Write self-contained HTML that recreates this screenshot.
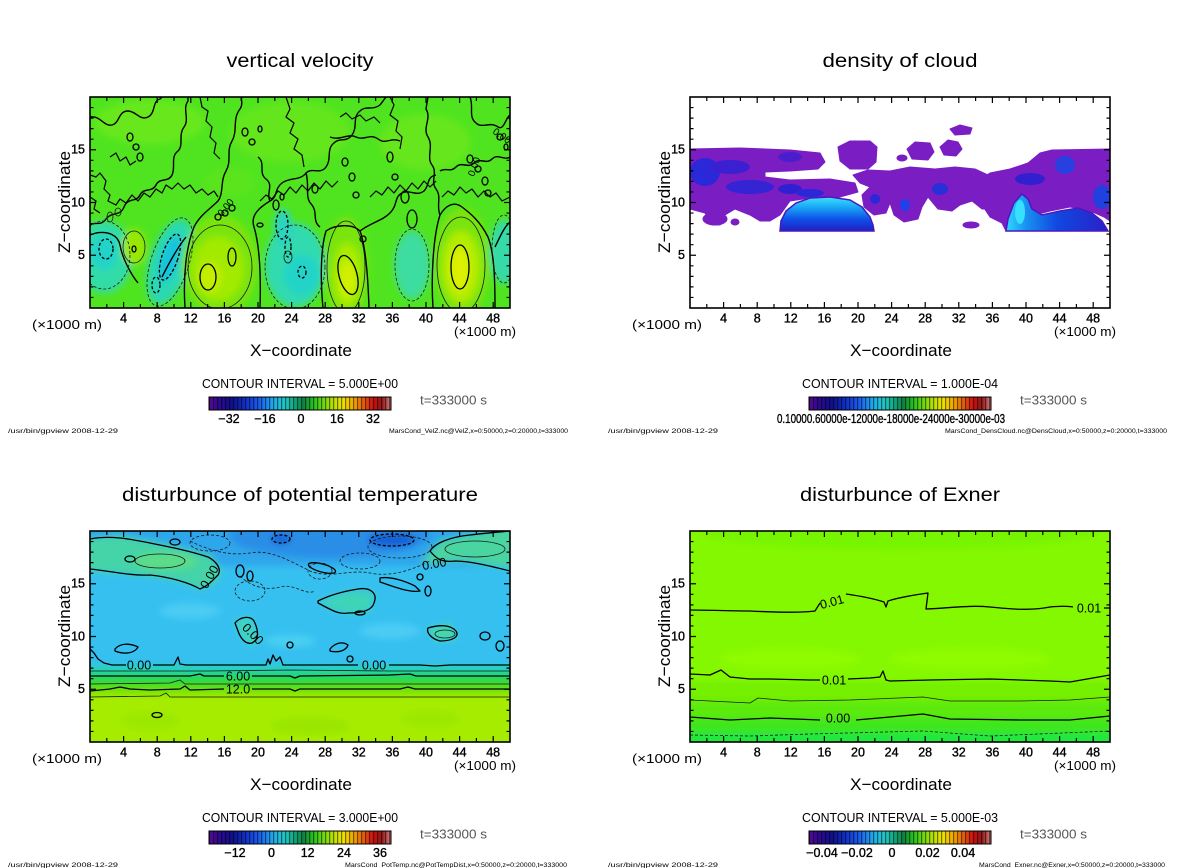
<!DOCTYPE html>
<html><head><meta charset="utf-8">
<style>
html,body{margin:0;padding:0;background:#fff;width:1200px;height:868px;overflow:hidden}
svg{display:block}
.t{font-size:19px}
.ax{font-size:17px}
.tk{font-size:12.5px;stroke:#000;stroke-width:.35}
.ci{font-size:13px}
.ts{font-size:12.5px;fill:#555}
.ft{font-size:6.5px}
.cl{font-size:12.5px}
</style></head><body>
<svg width="1200" height="868" viewBox="0 0 1200 868" xmlns="http://www.w3.org/2000/svg" font-family="'Liberation Sans', Arial, sans-serif">
<defs>
<clipPath id="pc"><rect x="0" y="0" width="420" height="211"/></clipPath>
<filter id="bl" x="-20%" y="-20%" width="140%" height="140%"><feGaussianBlur stdDeviation="3.5"/></filter>
<linearGradient id="cbg" x1="0" x2="1" y1="0" y2="0">
<stop offset="0" stop-color="#5a0896"/><stop offset=".06" stop-color="#2a0a90"/><stop offset=".13" stop-color="#10108c"/>
<stop offset=".2" stop-color="#1030c8"/><stop offset=".28" stop-color="#1a60f0"/><stop offset=".36" stop-color="#20b0e8"/>
<stop offset=".42" stop-color="#20c8c0"/><stop offset=".48" stop-color="#10a070"/><stop offset=".52" stop-color="#108040"/>
<stop offset=".57" stop-color="#20c020"/><stop offset=".63" stop-color="#70d810"/><stop offset=".69" stop-color="#c0e000"/>
<stop offset=".74" stop-color="#f0e000"/><stop offset=".8" stop-color="#f0a000"/><stop offset=".86" stop-color="#e05010"/>
<stop offset=".9" stop-color="#d01010"/><stop offset=".95" stop-color="#901818"/><stop offset="1" stop-color="#d88080"/>
</linearGradient>
<pattern id="stp" x="209" y="0" width="4" height="20" patternUnits="userSpaceOnUse"><rect width="1.2" height="20" fill="#000" opacity=".5"/></pattern>
<linearGradient id="lens1" x1="0" y1="0" x2="0" y2="1">
<stop offset="0" stop-color="#40e0ff"/><stop offset=".3" stop-color="#18a8f4"/><stop offset=".65" stop-color="#1050e8"/><stop offset="1" stop-color="#2020c0"/>
</linearGradient>
<linearGradient id="lens2" x1="0" y1="0" x2="1" y2="0">
<stop offset="0" stop-color="#30d8ff"/><stop offset=".2" stop-color="#1890f0"/><stop offset=".5" stop-color="#1048e0"/><stop offset="1" stop-color="#2a20c8"/>
</linearGradient>
<g id="axes">
<rect x="0" y="0" width="420" height="211" fill="none" stroke="#000" stroke-width="1.6"/>
<path fill="none" stroke="#000" stroke-width="1.2" d="M16.8,211v-4M50.4,211v-4M84,211v-4M117.6,211v-4M151.2,211v-4M184.8,211v-4M218.4,211v-4M252,211v-4M285.6,211v-4M319.2,211v-4M352.8,211v-4M386.4,211v-4M33.6,211v-6M67.2,211v-6M100.8,211v-6M134.4,211v-6M168,211v-6M201.6,211v-6M235.2,211v-6M268.8,211v-6M302.4,211v-6M336,211v-6M369.6,211v-6M403.2,211v-6M16.8,0v4M50.4,0v4M84,0v4M117.6,0v4M151.2,0v4M184.8,0v4M218.4,0v4M252,0v4M285.6,0v4M319.2,0v4M352.8,0v4M386.4,0v4M33.6,0v6M67.2,0v6M100.8,0v6M134.4,0v6M168,0v6M201.6,0v6M235.2,0v6M268.8,0v6M302.4,0v6M336,0v6M369.6,0v6M403.2,0v6M0,200.45h3.5M0,189.9h3.5M0,179.35h3.5M0,168.8h3.5M0,147.7h3.5M0,137.15h3.5M0,126.6h3.5M0,116.05h3.5M0,94.95h3.5M0,84.4h3.5M0,73.85h3.5M0,63.3h3.5M0,42.2h3.5M0,31.65h3.5M0,21.1h3.5M0,10.55h3.5M0,158.25h6M0,105.5h6M0,52.75h6M420,200.45h-3.5M420,189.9h-3.5M420,179.35h-3.5M420,168.8h-3.5M420,147.7h-3.5M420,137.15h-3.5M420,126.6h-3.5M420,116.05h-3.5M420,94.95h-3.5M420,84.4h-3.5M420,73.85h-3.5M420,63.3h-3.5M420,42.2h-3.5M420,31.65h-3.5M420,21.1h-3.5M420,10.55h-3.5M420,158.25h-6M420,105.5h-6M420,52.75h-6"/>
</g>
<g id="cbar">
<rect x="209" y="397" width="182" height="13" fill="url(#cbg)"/>
<rect x="209" y="397" width="182" height="13" fill="url(#stp)"/>
<rect x="209" y="397" width="182" height="13" fill="none" stroke="#000" stroke-width="1"/>
</g>
<g id="common">
<text class="ax" transform="translate(70,202) rotate(-90)" text-anchor="middle" textLength="102" lengthAdjust="spacingAndGlyphs">Z−coordinate</text>
<text class="tk" x="85" y="153.5" text-anchor="end">15</text>
<text class="tk" x="85" y="206.5" text-anchor="end">10</text>
<text class="tk" x="85" y="259" text-anchor="end">5</text>
<g class="tk" text-anchor="middle">
<text x="123.6" y="322.5">4</text><text x="157.2" y="322.5">8</text><text x="190.8" y="322.5">12</text><text x="224.4" y="322.5">16</text>
<text x="258" y="322.5">20</text><text x="291.6" y="322.5">24</text><text x="325.2" y="322.5">28</text><text x="358.8" y="322.5">32</text>
<text x="392.4" y="322.5">36</text><text x="426" y="322.5">40</text><text x="459.6" y="322.5">44</text><text x="493.2" y="322.5">48</text>
</g>
<text class="cl" x="32" y="329" textLength="70" lengthAdjust="spacingAndGlyphs">(×1000 m)</text>
<text class="cl" x="454" y="336" textLength="62" lengthAdjust="spacingAndGlyphs">(×1000 m)</text>
<text class="ax" x="301" y="356" text-anchor="middle" textLength="102" lengthAdjust="spacingAndGlyphs">X−coordinate</text>
<use href="#cbar"/>
<text class="ts" x="420" y="404.5" textLength="67" lengthAdjust="spacingAndGlyphs">t=333000 s</text>
<text class="ft" x="8" y="433" textLength="110" lengthAdjust="spacingAndGlyphs">/usr/bin/gpview  2008-12-29</text>
</g>
</defs>

<!-- ================= PANEL 1 ================= -->
<g>
<text class="t" x="300" y="67" text-anchor="middle" textLength="147" lengthAdjust="spacingAndGlyphs">vertical velocity</text>
<g transform="translate(90,97)">
<g clip-path="url(#pc)">
<rect x="-5" y="-5" width="430" height="221" fill="#50e420"/>
<g filter="url(#bl)">
<ellipse cx="60" cy="25" rx="55" ry="22" fill="#68e81a"/>
<ellipse cx="200" cy="35" rx="60" ry="30" fill="#64e61a"/>
<ellipse cx="335" cy="45" rx="45" ry="28" fill="#66e61a"/>
<ellipse cx="140" cy="85" rx="25" ry="15" fill="#5ae41c"/>
<ellipse cx="14" cy="160" rx="28" ry="36" fill="#30dca8"/>
<ellipse cx="14" cy="155" rx="14" ry="18" fill="#20d4c8"/>
<ellipse cx="80" cy="165" rx="20" ry="44" fill="#2cd8b4" transform="rotate(18 80 165)"/>
<ellipse cx="80" cy="162" rx="9" ry="24" fill="#14c4dc" transform="rotate(18 80 162)"/>
<ellipse cx="205" cy="168" rx="30" ry="42" fill="#30dab0"/>
<ellipse cx="212" cy="178" rx="18" ry="20" fill="#22d4c8"/>
<ellipse cx="193" cy="130" rx="9" ry="18" fill="#2ad4c0"/>
<ellipse cx="322" cy="168" rx="18" ry="34" fill="#3cdca0"/>
<ellipse cx="414" cy="155" rx="14" ry="32" fill="#34daa8"/>
<ellipse cx="130" cy="168" rx="38" ry="50" fill="#7ae408"/>
<ellipse cx="128" cy="172" rx="26" ry="32" fill="#a2ea00"/>
<ellipse cx="120" cy="180" rx="11" ry="15" fill="#c4ee00"/>
<ellipse cx="256" cy="172" rx="22" ry="52" fill="#7ae408"/>
<ellipse cx="257" cy="178" rx="14" ry="32" fill="#aaec00"/>
<ellipse cx="258" cy="182" rx="8" ry="18" fill="#d2f000"/>
<ellipse cx="372" cy="165" rx="28" ry="54" fill="#7ae408"/>
<ellipse cx="371" cy="170" rx="19" ry="36" fill="#b2ec00"/>
<ellipse cx="370" cy="172" rx="10" ry="22" fill="#dcf000"/>
<ellipse cx="44" cy="150" rx="12" ry="18" fill="#9ae800"/>
</g>
<g fill="none" stroke="#000" stroke-width="1.4" stroke-linejoin="round">
<path d="M95,211 C93,180 96,150 104,130 C110,118 120,112 128,104 C134,96 130,84 136,74 C142,64 136,54 142,44 C148,34 142,22 150,12 C154,6 150,2 152,0"/>
<path d="M170,211 C171,180 170,150 164,130 C160,118 170,110 180,104 C188,100 184,92 192,86 C200,80 210,84 216,76 C222,70 230,78 236,70 C242,62 236,52 244,46 C250,40 256,46 262,38 C268,30 262,20 270,14 C276,8 282,14 290,8 L296,0"/>
<path d="M233,211 C230,180 231,150 236,134 C244,128 262,126 270,134 C276,150 278,180 279,211"/>
<path d="M270,134 C280,126 292,124 300,116 C308,108 304,100 312,96 C320,92 326,100 334,94 C340,88 336,80 346,78"/>
<path d="M343,211 C341,180 343,140 350,118 C356,108 364,104 372,110 C380,116 390,124 398,140 C404,155 405,180 405,211"/>
<path d="M350,118 C346,108 352,100 346,92 C340,84 348,76 342,68 C336,60 344,50 338,40 C332,30 342,22 336,12 L338,0"/>
<path d="M0,128 C6,124 10,130 16,122 C22,114 30,120 34,110 C38,100 46,106 50,98 C54,90 62,96 66,88 C70,80 78,86 82,78 C86,70 80,60 88,54 C94,48 88,38 94,30 C100,22 92,12 98,4 L98,0"/>
<path d="M0,20 C10,18 14,30 22,28 C30,26 28,14 38,14 C46,14 50,24 58,20 C66,16 62,4 70,2 L72,0"/>
<path d="M48,186 C40,176 32,160 30,148 C28,138 18,134 6,136 L0,138"/>
<path d="M96,140 C88,150 78,168 72,180"/>
<path d="M420,60 C414,64 408,56 402,62 C396,68 390,60 384,66 C378,72 372,64 366,70 C360,76 356,70 350,74"/>
<path d="M405,150 C410,140 414,130 420,125"/>
<path d="M240,40 C250,44 258,36 266,40 C274,44 280,36 288,42 C296,48 300,40 310,44"/>
<path d="M380,0 C384,10 378,20 386,26 C392,32 400,24 408,30 C414,34 416,20 420,18"/>
<path d="M180,104 C176,96 184,88 176,82 C168,76 176,66 168,60"/>
<path d="M216,76 C220,90 214,100 222,108 C228,116 222,124 230,130"/>
</g>
<g fill="none" stroke="#000" stroke-width="1.2" stroke-linejoin="round">
<path d="M0,78 L6,80 L10,76 L16,84 L14,92 L20,98 L18,104 L26,108 L30,102 L36,106 L42,98 L48,104 L54,96 L60,100 L66,92 L72,96 L76,88 L82,92 L88,86 L94,92 L100,88 L106,96 L112,92 L118,98 L124,94 L128,100"/>
<path d="M170,104 L176,98 L182,102 L188,94 L194,98 L200,90 L206,96 L212,88 L218,94 L224,86 L230,92 L236,84 L242,90 L248,84"/>
<path d="M280,100 L286,94 L292,98 L298,90 L304,96 L310,88 L316,94 L322,86 L328,92 L334,84 L340,90 L346,84"/>
<path d="M352,100 L358,94 L364,98 L370,90 L376,96 L382,92 L388,100 L394,94 L400,100 L406,96 L412,104 L420,100"/>
<path d="M110,0 L112,10 L118,14 L116,24 L122,30 L120,40 L126,46 L124,56 L130,62"/>
<path d="M196,0 L200,12 L196,20 L204,26 L200,36 L208,42 L204,52 L212,58 L214,70"/>
<path d="M300,0 L304,8 L300,18 L308,24 L306,34 L312,40 L310,52"/>
<path d="M250,20 L256,16 L262,22 L270,18 L276,24 L284,20 L290,26"/>
<path d="M20,60 L26,56 L30,64 L36,60 L40,68 L46,64"/>
<path d="M0,100 L6,104 L4,112 L10,116"/>
</g>
<g fill="none" stroke="#000" stroke-width="1.3">
<ellipse cx="40" cy="40" rx="3" ry="4"/><ellipse cx="46" cy="50" rx="3" ry="3"/><ellipse cx="50" cy="60" rx="3" ry="4"/>
<ellipse cx="128" cy="120" rx="3" ry="3"/><ellipse cx="135" cy="116" rx="3" ry="3"/><ellipse cx="142" cy="111" rx="3" ry="3"/>
<ellipse cx="155" cy="35" rx="3" ry="4"/><ellipse cx="162" cy="45" rx="3" ry="3"/><ellipse cx="170" cy="32" rx="2" ry="3"/>
<ellipse cx="255" cy="65" rx="3" ry="4"/><ellipse cx="262" cy="80" rx="3" ry="4"/><ellipse cx="266" cy="98" rx="3" ry="3"/>
<ellipse cx="300" cy="60" rx="3" ry="5"/><ellipse cx="305" cy="80" rx="3" ry="3"/><ellipse cx="315" cy="100" rx="4" ry="6"/>
<ellipse cx="322" cy="122" rx="5" ry="9"/><ellipse cx="273" cy="142" rx="3" ry="3"/><ellipse cx="170" cy="128" rx="3" ry="2"/>
<ellipse cx="186" cy="108" rx="3" ry="5"/><ellipse cx="192" cy="100" rx="2" ry="3"/><ellipse cx="225" cy="92" rx="3" ry="4"/>
<ellipse cx="380" cy="62" rx="3" ry="4"/><ellipse cx="388" cy="72" rx="3" ry="3"/><ellipse cx="395" cy="84" rx="3" ry="4"/>
<ellipse cx="398" cy="96" rx="3" ry="3"/><ellipse cx="410" cy="40" rx="3" ry="3"/><ellipse cx="416" cy="50" rx="2" ry="3"/>
<ellipse cx="118" cy="180" rx="8" ry="13"/><ellipse cx="142" cy="160" rx="4" ry="9"/>
<ellipse cx="258" cy="178" rx="9" ry="20" transform="rotate(-15 258 178)"/>
<ellipse cx="370" cy="170" rx="9" ry="22"/><ellipse cx="44" cy="152" rx="2" ry="3"/>
</g>
<g fill="none" stroke="#1a1a1a" stroke-width="0.8">
<ellipse cx="130" cy="170" rx="32" ry="42"/><ellipse cx="256" cy="170" rx="19" ry="46"/>
<ellipse cx="371" cy="168" rx="24" ry="48"/><ellipse cx="44" cy="150" rx="11" ry="16"/>
<ellipse cx="20" cy="120" rx="3" ry="5"/><ellipse cx="28" cy="115" rx="3" ry="4"/><ellipse cx="198" cy="160" rx="4" ry="6"/>
</g>
<g fill="none" stroke="#1a1a1a" stroke-width="0.8" stroke-dasharray="3,2">
<ellipse cx="14" cy="158" rx="26" ry="34"/>
<ellipse cx="80" cy="165" rx="19" ry="46" transform="rotate(18 80 165)"/>
<ellipse cx="205" cy="170" rx="30" ry="42"/>
<ellipse cx="322" cy="168" rx="17" ry="36"/>
<ellipse cx="414" cy="152" rx="12" ry="34"/>
</g>
<g fill="none" stroke="#000" stroke-width="1.3" stroke-dasharray="3,2">
<ellipse cx="16" cy="152" rx="7" ry="10"/>
<ellipse cx="80" cy="160" rx="8" ry="24" transform="rotate(18 80 160)"/>
<ellipse cx="192" cy="128" rx="6" ry="14"/><ellipse cx="212" cy="175" rx="4" ry="6"/>
<ellipse cx="66" cy="188" rx="4" ry="8"/><ellipse cx="198" cy="150" rx="3" ry="10"/>
</g>
<g font-size="10">
<text x="0" y="0" transform="translate(132,120) rotate(-50)">0.00</text>
<text x="0" y="0" transform="translate(384,80) rotate(-70)">0.00</text>
<text x="0" y="0" transform="translate(402,36) rotate(35)">0.00</text>
</g>
</g>
<use href="#axes"/>
</g>
<use href="#common"/>
<text class="ci" x="300" y="388" text-anchor="middle" textLength="196" lengthAdjust="spacingAndGlyphs">CONTOUR INTERVAL = 5.000E+00</text>
<g class="tk" text-anchor="middle">
<text x="229" y="423">−32</text><text x="265" y="423">−16</text><text x="301" y="423">0</text><text x="337" y="423">16</text><text x="373" y="423">32</text>
</g>
<text class="ft" x="568" y="433" text-anchor="end" textLength="179" lengthAdjust="spacingAndGlyphs">MarsCond_VelZ.nc@VelZ,x=0:50000,z=0:20000,t=333000</text>
</g>

<!-- ================= PANEL 2 ================= -->
<g transform="translate(600,0)">
<text class="t" x="300" y="67" text-anchor="middle" textLength="155" lengthAdjust="spacingAndGlyphs">density of cloud</text>
<g transform="translate(90,97)">
<g clip-path="url(#pc)">
<rect x="0" y="0" width="420" height="211" fill="#fff"/>
<g fill="#7a1ec4" stroke="#7a1ec4" stroke-width="1" stroke-linejoin="round">
<path d="M0,52 L50,51 L100,53 L130,56 L135,65 L128,72 L100,74 L75,75 L75,80 L100,83 L140,82 L165,86 L168,95 L150,100 L120,101 L100,104 L90,118 L80,124 L70,124 L60,118 L45,112 L35,118 L30,128 L20,125 L15,116 L0,112 Z"/>
<ellipse cx="25" cy="122" rx="12" ry="6"/><ellipse cx="45" cy="125" rx="4" ry="3"/>
<path d="M148,50 L160,44 L180,44 L187,50 L186,65 L178,72 L160,72 L150,64 Z"/>
<ellipse cx="212" cy="61" rx="5" ry="3"/>
<path d="M217,52 L225,45 L240,46 L244,55 L238,63 L222,62 Z"/>
<path d="M250,50 L258,43 L268,45 L272,52 L266,59 L254,58 Z"/>
<path d="M260,32 L270,28 L282,31 L280,37 L265,38 Z"/>
<path d="M163,78 L178,73 L200,74 L220,70 L245,72 L265,70 L285,72 L298,78 L305,88 L310,100 L305,112 L292,112 L282,104 L270,108 L262,114 L248,112 L238,100 L232,110 L228,122 L214,125 L204,118 L200,106 L196,116 L184,118 L174,110 L172,98 L180,90 L170,86 Z"/>
<path d="M287,84 L300,76 L320,72 L338,66 L350,56 L362,53 L420,52 L420,124 L414,120 L405,116 L392,112 L380,110 L360,114 L345,118 L335,100 L328,104 L322,118 L316,134 L312,126 L300,120 L292,108 L288,96 Z"/>
<ellipse cx="281" cy="128" rx="8" ry="3"/>
</g>
<g fill="#2a28d8">
<ellipse cx="15" cy="75" rx="15" ry="14"/><ellipse cx="40" cy="70" rx="20" ry="7" fill="#3a20d0"/>
<ellipse cx="60" cy="90" rx="24" ry="7" fill="#3424d4"/><ellipse cx="100" cy="92" rx="12" ry="5" fill="#3020d0"/>
<ellipse cx="100" cy="60" rx="12" ry="5" fill="#4a1ecc"/><ellipse cx="120" cy="96" rx="14" ry="4"/>
<ellipse cx="375" cy="68" rx="10" ry="9" fill="#2840e0"/><ellipse cx="412" cy="100" rx="9" ry="12" fill="#2040e0"/>
<ellipse cx="340" cy="82" rx="15" ry="6" fill="#3020d0"/><ellipse cx="250" cy="92" rx="8" ry="6" fill="#2a30d8"/>
<ellipse cx="215" cy="108" rx="5" ry="6" fill="#2040e8"/><ellipse cx="185" cy="102" rx="5" ry="5"/>
</g>
<path d="M90,134 L91,124 L96,114 L106,106 L120,101 L140,100 L160,103 L172,110 L180,120 L183,128 L184,134 Z" fill="url(#lens1)" stroke="#4a18c0" stroke-width="1.5"/>
<path d="M316,134 L318,122 L324,106 L332,97 L338,102 L342,112 L352,118 L370,114 L388,111 L402,116 L412,124 L418,134 Z" fill="url(#lens2)" stroke="#4a18c0" stroke-width="1.5"/>
<ellipse cx="330" cy="115" rx="5" ry="12" fill="#38e0ff"/>
</g>
<use href="#axes"/>
</g>
<use href="#common"/>
<text class="ci" x="300" y="388" text-anchor="middle" textLength="196" lengthAdjust="spacingAndGlyphs">CONTOUR INTERVAL = 1.000E-04</text>
<text class="tk" x="177" y="423" textLength="228" lengthAdjust="spacingAndGlyphs">0.10000.60000e-12000e-18000e-24000e-30000e-03</text>
<text class="ft" x="567" y="433" text-anchor="end" textLength="222" lengthAdjust="spacingAndGlyphs">MarsCond_DensCloud.nc@DensCloud,x=0:50000,z=0:20000,t=333000</text>
</g>

<!-- ================= PANEL 3 ================= -->
<g transform="translate(0,434)">
<text class="t" x="300" y="67" text-anchor="middle" textLength="356" lengthAdjust="spacingAndGlyphs">disturbunce of potential temperature</text>
<g transform="translate(90,97)">
<g clip-path="url(#pc)">
<rect x="-5" y="-5" width="430" height="221" fill="#36c0f0"/>
<g filter="url(#bl)">
<rect x="-20" y="-20" width="460" height="55" fill="#2ea6ec"/>
<ellipse cx="240" cy="5" rx="100" ry="22" fill="#2a8ee6"/>
<ellipse cx="191" cy="8" rx="10" ry="5" fill="#1460d8"/>
<ellipse cx="302" cy="9" rx="24" ry="7" fill="#1460d8"/>
<path d="M-10,8 L30,4 L80,14 L120,24 L132,40 L125,52 L110,58 L90,50 L60,45 L30,42 L-10,40 Z" fill="#44d4a8"/>
<ellipse cx="75" cy="30" rx="32" ry="9" fill="#5cdc88"/>
<path d="M330,32 L350,10 L380,3 L430,-5 L430,38 L400,34 L370,30 L345,32 Z" fill="#48d4a0"/>
<path d="M228,70 L260,60 L285,62 L280,80 L260,83 L240,78 Z" fill="#3cd4b8"/>
<path d="M338,97 L360,93 L368,108 L345,110 Z" fill="#44d8a8"/>
<path d="M145,90 L160,85 L170,110 L160,115 L150,105 Z" fill="#40d4c0"/>
<ellipse cx="100" cy="80" rx="30" ry="8" fill="#4cccf4"/>
<ellipse cx="300" cy="100" rx="30" ry="8" fill="#4cccf4"/>
<ellipse cx="200" cy="110" rx="25" ry="6" fill="#4ad0f2"/>
<rect x="-20" y="134" width="460" height="6" fill="#2cd0c8"/>
<rect x="-20" y="139" width="460" height="6" fill="#1cd890"/>
<rect x="-20" y="144.5" width="460" height="6" fill="#20d850"/>
<rect x="-20" y="150" width="460" height="7" fill="#40dc20"/>
<rect x="-20" y="157" width="460" height="7" fill="#78e400"/>
<rect x="-20" y="163.5" width="460" height="70" fill="#a6ec00"/>
<ellipse cx="60" cy="190" rx="30" ry="10" fill="#9ce800"/>
<ellipse cx="220" cy="195" rx="40" ry="9" fill="#9ae600"/>
<ellipse cx="340" cy="188" rx="30" ry="9" fill="#9ce800"/>
</g>
<g fill="none" stroke="#000" stroke-width="1.3" stroke-linejoin="round">
<path d="M0,118 L4,122 L8,128 L14,132 L22,134 L36,134"/>
<path d="M63,134 L84,134 L88,126 L90,133 L96,134 L130,134 L176,134 L178,128 L180,133 L183,124 L186,130 L190,126 L193,134 L230,134 L268,134"/>
<path d="M299,134 L330,134 L345,135 L360,134 L380,134 L420,134"/>
<path d="M0,145 L60,145 L100,145 L110,143 L114,145 L134,145"/>
<path d="M162,145 L200,145 L205,147 L210,145 L300,144 L320,143 L326,145 L420,145"/>
<path d="M0,160 L20,158 L30,156 L40,158 L60,159 L90,158 L95,155 L100,159 L134,158"/>
<path d="M162,158 L200,158 L205,160 L210,158 L310,158 L318,156 L325,158 L420,158"/>
<path d="M0,38 C20,40 40,45 60,44 C80,46 100,52 110,58 C118,55 122,50 128,44 C132,38 126,30 118,26 C100,20 80,16 60,12 C40,8 20,4 0,8"/>
<path d="M420,40 C400,35 380,30 365,30 C350,32 345,26 340,20 C345,12 360,6 380,4 C395,2 410,1 420,0"/>
<path d="M228,70 C240,64 255,60 268,58 C280,56 288,62 284,72 C282,80 270,82 258,82 C248,84 240,78 228,72Z"/>
<path d="M145,92 C150,86 160,84 164,90 C168,98 170,108 162,112 C155,114 150,106 148,100 Z"/>
<path d="M338,97 C348,94 360,93 366,100 C370,106 362,110 350,110 C342,108 336,102 338,97Z"/>
<path d="M290,47 C300,45 315,50 325,55 L330,60 C320,62 305,56 290,51Z"/>
<path d="M25,118 C30,112 40,112 48,116 C45,122 35,124 25,120Z"/>
<path d="M240,118 C245,112 252,110 258,114 C256,120 248,122 240,120Z"/>
<ellipse cx="232" cy="37" rx="14" ry="4" transform="rotate(15 232 37)"/>
<ellipse cx="85" cy="11" rx="5" ry="3"/><ellipse cx="40" cy="28" rx="5" ry="3"/>
<ellipse cx="150" cy="40" rx="4" ry="6"/><ellipse cx="160" cy="45" rx="3" ry="5"/>
<ellipse cx="330" cy="46" rx="3" ry="3"/><ellipse cx="338" cy="60" rx="3" ry="5"/>
<ellipse cx="270" cy="82" rx="5" ry="2"/><ellipse cx="67" cy="184" rx="5" ry="2.5"/>
<ellipse cx="395" cy="105" rx="5" ry="4"/><ellipse cx="410" cy="115" rx="4" ry="5"/>
<ellipse cx="200" cy="114" rx="3" ry="3"/><ellipse cx="260" cy="128" rx="3" ry="3"/>
</g>
<g fill="none" stroke="#1a1a1a" stroke-width="0.8">
<path d="M0,140 L120,140 L200,139 L300,140 L420,140"/>
<path d="M0,153 L80,152 L90,149 L95,153 L420,153"/>
<path d="M0,166 L70,165 L76,162 L80,166 L420,166"/>
<ellipse cx="70" cy="30" rx="25" ry="7"/><ellipse cx="385" cy="18" rx="30" ry="8"/>
<ellipse cx="355" cy="103" rx="10" ry="4"/>
</g>
<g fill="none" stroke="#1a1a1a" stroke-width="0.8" stroke-dasharray="3,2">
<path d="M100,10 C120,20 140,25 160,22 C180,18 200,30 220,40 C240,48 260,38 280,42 C300,46 320,40 340,30"/>
<path d="M150,45 C160,55 175,60 190,56 C205,52 215,65 225,60"/>
<ellipse cx="120" cy="12" rx="20" ry="8"/><ellipse cx="310" cy="16" rx="32" ry="11"/>
<ellipse cx="230" cy="40" rx="12" ry="8"/><ellipse cx="160" cy="60" rx="15" ry="10"/>
<ellipse cx="270" cy="30" rx="20" ry="8"/>
</g>
<g fill="none" stroke="#000" stroke-width="1.3" stroke-dasharray="3,2">
<ellipse cx="191" cy="8" rx="9" ry="4"/><ellipse cx="302" cy="9" rx="22" ry="6"/>
</g>
<g class="cl" text-anchor="middle">
<text x="49" y="138.5">0.00</text><text x="284" y="138.5">0.00</text>
<text x="148" y="149.5">6.00</text><text x="148" y="162.5">12.0</text>
<text x="0" y="0" transform="translate(123,48) rotate(-60)">0.00</text>
<text x="0" y="0" transform="translate(345,37) rotate(-10)">0.00</text>
<text x="0" y="0" transform="translate(160,106) rotate(45)">0.00</text>
</g>
</g>
<use href="#axes"/>
</g>
<use href="#common"/>
<text class="ci" x="300" y="388" text-anchor="middle" textLength="196" lengthAdjust="spacingAndGlyphs">CONTOUR INTERVAL = 3.000E+00</text>
<g class="tk" text-anchor="middle">
<text x="235" y="423">−12</text><text x="271.5" y="423">0</text><text x="307.7" y="423">12</text><text x="344" y="423">24</text><text x="380" y="423">36</text>
</g>
<text class="ft" x="567" y="433" text-anchor="end" textLength="222" lengthAdjust="spacingAndGlyphs">MarsCond_PotTemp.nc@PotTempDist,x=0:50000,z=0:20000,t=333000</text>
</g>

<!-- ================= PANEL 4 ================= -->
<g transform="translate(600,434)">
<text class="t" x="300" y="67" text-anchor="middle" textLength="200" lengthAdjust="spacingAndGlyphs">disturbunce of Exner</text>
<g transform="translate(90,97)">
<g clip-path="url(#pc)">
<rect x="-5" y="-5" width="430" height="221" fill="#84f800"/>
<g filter="url(#bl)">
<ellipse cx="210" cy="0" rx="200" ry="18" fill="#76f400"/>
<ellipse cx="100" cy="128" rx="70" ry="10" fill="#90fc00"/>
<ellipse cx="280" cy="128" rx="80" ry="10" fill="#90fc00"/>
<rect x="-20" y="150" width="460" height="80" fill="#74f000"/>
<rect x="-20" y="170" width="460" height="60" fill="#5cea08"/>
<rect x="-20" y="187" width="460" height="40" fill="#40e61c"/>
<rect x="-20" y="201" width="460" height="30" fill="#24e83c"/>
</g>
<g fill="none" stroke="#000" stroke-width="1.3" stroke-linejoin="round">
<path d="M0,79 C20,79 40,80 60,80 C80,81 110,82 125,80 L130,72"/>
<path d="M156,63 C170,65 185,68 194,71 L196,76 L198,70 C210,66 225,64 238,62 L237,70 L236,78 C260,77 280,74 300,76 C320,78 340,80 360,76 C370,75 378,75 383,76"/>
<path d="M414,77 L420,77"/>
<path d="M0,143 L20,144 L31,139 L40,146 L60,148 L80,148 L120,149 L130,149"/>
<path d="M158,148 L180,147 L190,146 L193,140 L196,149 L200,150 L240,149 L300,148 L360,150 L380,151 L420,144"/>
<path d="M0,186 L40,189 L80,187 L130,189"/>
<path d="M166,189 L200,186 L233,183 L260,188 L330,189 L380,189 L420,185"/>
</g>
<path d="M0,169 L60,172 L68,167 L100,170 L160,169 L233,166 L260,170 L330,170 L380,169 L420,166" fill="none" stroke="#1a1a1a" stroke-width="0.8"/>
<path d="M0,204 L60,205 L120,203 L233,200 L300,205 L420,200" fill="none" stroke="#1a1a1a" stroke-width="0.8" stroke-dasharray="3,2"/>
<g class="cl" text-anchor="middle">
<text x="0" y="0" transform="translate(143,75) rotate(-15)">0.01</text>
<text x="399" y="81.5">0.01</text>
<text x="144" y="153.5">0.01</text>
<text x="148" y="191.5">0.00</text>
</g>
</g>
<use href="#axes"/>
</g>
<use href="#common"/>
<text class="ci" x="300" y="388" text-anchor="middle" textLength="196" lengthAdjust="spacingAndGlyphs">CONTOUR INTERVAL = 5.000E-03</text>
<g class="tk" text-anchor="middle">
<text x="222" y="423">−0.04</text><text x="257" y="423">−0.02</text><text x="292" y="423">0</text><text x="327.5" y="423">0.02</text><text x="363" y="423">0.04</text>
</g>
<text class="ft" x="565" y="433" text-anchor="end" textLength="186" lengthAdjust="spacingAndGlyphs">MarsCond_Exner.nc@Exner,x=0:50000,z=0:20000,t=333000</text>
</g>
</svg>
</body></html>
